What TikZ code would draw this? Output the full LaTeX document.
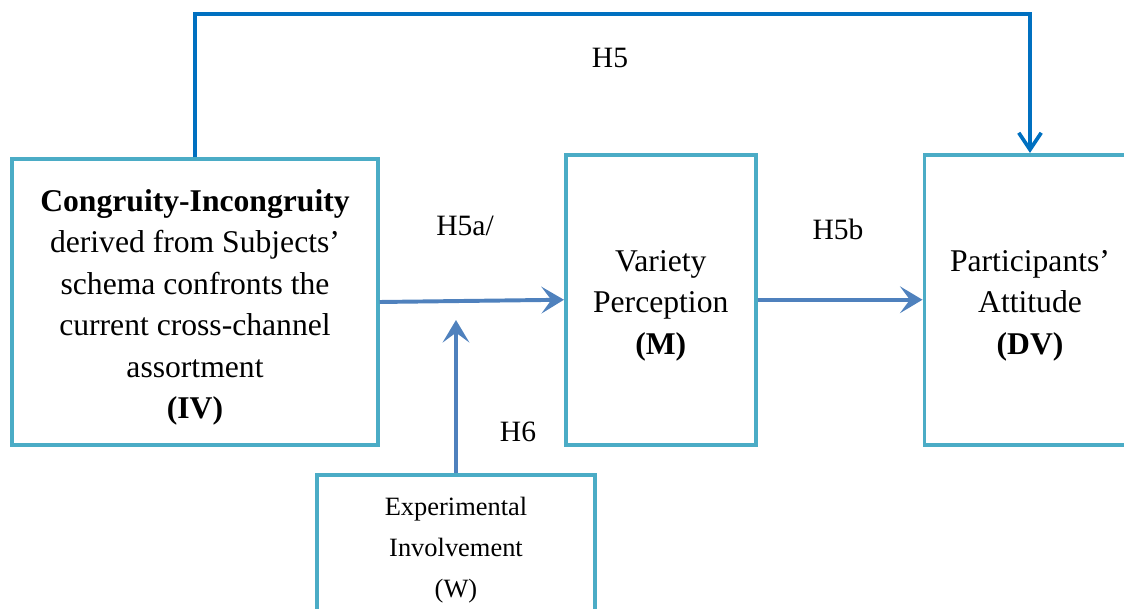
\documentclass[tikz,border=0pt]{standalone}
\usepackage{fontspec}
\setmainfont{Liberation Serif}
\usetikzlibrary{positioning,arrows.meta}
\definecolor{boxcol}{HTML}{4BACC6}
\definecolor{arrcol}{HTML}{4F81BD}
\definecolor{topcol}{HTML}{0070C0}
\newcommand{\toplift}{\rule{0pt}{23pt}}

\begin{document}
\begin{tikzpicture}[x=0.025cm, y=-0.025cm,
    varbox/.style={draw=boxcol, line width=2.8pt, align=center, inner sep=0pt},
    bigtext/.style={font=\fontsize{22.5}{29.5}\selectfont},
    hyp/.style={arrcol, line width=2.8pt, -{Stealth[length=16pt, width=19pt, inset=7pt]}},
    lab/.style={font=\fontsize{21}{25}\selectfont}]
    \clip (0,0) rectangle (1124,609);

    % variables
    \node [varbox, bigtext, minimum width=9.125cm, minimum height=7.125cm] (iv) at (195,302)
      {\toplift\textbf{Congruity-Incongruity}\\derived from Subjects’\\schema confronts the\\current cross-channel\\assortment\\\textbf{(IV)}};
    \node [varbox, bigtext, minimum width=4.74cm, minimum height=7.24cm] (mv) at (660.75,299.75)
      {\toplift Variety\\Perception\\\textbf{(M)}};
    \node [varbox, bigtext, minimum width=5.275cm, minimum height=7.24cm] (dv) at (1030,299.75)
      {\toplift Participants’\\Attitude\\\textbf{(DV)}};
    \node [varbox, font=\fontsize{18.8}{29}\selectfont, minimum width=6.925cm, minimum height=3.74cm] (wv) at (456,550.25)
      {Experimental\\Involvement\\(W)};

    % hypotheses
    \node [lab] (h5) at (610,58) {H5};
    \node [lab] (h5a) at (465,226) {H5a/};
    \node [lab] (h5b) at (838,229) {H5b};
    \node [lab] (h6) at (518,432) {H6};

    \coordinate (toprail) at (0,14);
    \coordinate (h6tip) at (456,320);

    \draw [topcol, line width=2.6pt, -{Straight Barb[length=12pt, width=16pt]}]
      (iv.north) -- (iv.north |- toprail) -| (dv.north);
    \draw [hyp] (iv.east) -- (mv.west);
    \draw [hyp] (mv.east) -- (dv.west);
    \draw [hyp] (wv.north) -- (h6tip);
\end{tikzpicture}
\end{document}
